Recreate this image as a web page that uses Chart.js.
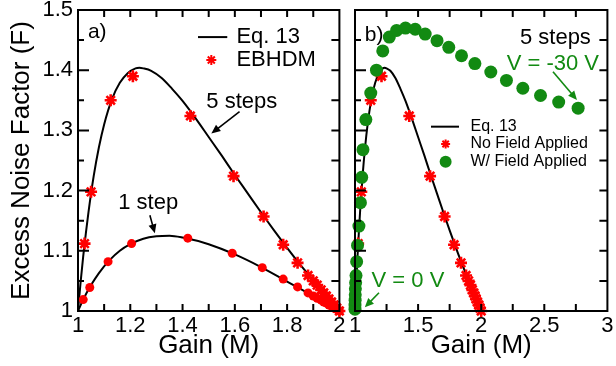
<!DOCTYPE html>
<html>
<head>
<meta charset="utf-8">
<script src="https://cdn.jsdelivr.net/npm/chart.js@4.4.1/dist/chart.umd.min.js"></script>
<style>
  html, body { margin: 0; padding: 0; background: #fff; }
  #wrap { position: relative; width: 616px; height: 366px; overflow: hidden; background: #fff; }
  canvas { position: absolute; top: 0; }
  #left { left: 0; }
  #right { left: 340px; }
</style>
</head>
<body>
<div id="wrap">
  <canvas id="left" width="348" height="366" style="width:348px;height:366px"></canvas>
  <canvas id="right" width="276" height="366" style="width:276px;height:366px"></canvas>
</div>
<script>
// ---------------- AXIS TICKS ----------------
const gainTicksA = [1, 1.2, 1.4, 1.6, 1.8, 2];
const gainMarksA = [1.1, 1.2, 1.3, 1.4, 1.5, 1.6, 1.7, 1.8, 1.9];
const gainTicksB = [1, 1.5, 2, 2.5, 3];
const gainMarksB = [1.25, 1.5, 1.75, 2, 2.25, 2.5, 2.75];
const noiseTicks = [1, 1.1, 1.2, 1.3, 1.4, 1.5];
const noiseMarks = [1.05, 1.1, 1.15, 1.2, 1.25, 1.3, 1.35, 1.4, 1.45];

// ---------------- EQ. 13 CURVES ----------------
const gainFiveStep = [1.000, 1.005, 1.01, 1.02, 1.03, 1.04, 1.06, 1.08, 1.10, 1.13, 1.16, 1.19, 1.22, 1.235, 1.25, 1.28, 1.32, 1.36, 1.40, 1.45, 1.50, 1.55, 1.60, 1.65, 1.70, 1.75, 1.80, 1.85, 1.90, 1.95, 2.00];
const noiseFiveStep = [1.000, 1.024, 1.048, 1.091, 1.129, 1.164, 1.224, 1.272, 1.310, 1.352, 1.379, 1.395, 1.403, 1.404, 1.403, 1.399, 1.387, 1.369, 1.349, 1.320, 1.289, 1.258, 1.226, 1.195, 1.164, 1.134, 1.105, 1.077, 1.051, 1.025, 1.000];
const gainOneStep = [1.00, 1.02, 1.05, 1.08, 1.12, 1.16, 1.20, 1.25, 1.30, 1.35, 1.40, 1.50, 1.60, 1.70, 1.80, 1.90, 2.00];
const noiseOneStep = [1.000, 1.019, 1.043, 1.063, 1.084, 1.100, 1.111, 1.120, 1.124, 1.125, 1.122, 1.111, 1.094, 1.073, 1.049, 1.025, 1.000];

// ---------------- EBHDM (no field) ----------------
const ebGainFive = [1.025, 1.05, 1.125, 1.21, 1.43, 1.595, 1.71, 1.785, 1.84, 1.88, 1.90, 1.915, 1.93, 1.94, 1.95, 1.96, 1.97, 1.98, 1.99, 2.00];
const ebNoiseFive = [1.112, 1.198, 1.350, 1.390, 1.324, 1.224, 1.157, 1.110, 1.080, 1.059, 1.050, 1.043, 1.035, 1.030, 1.025, 1.020, 1.015, 1.010, 1.005, 1.000];
const ebGainOne = [1.02, 1.045, 1.115, 1.205, 1.42, 1.59, 1.705, 1.785, 1.84, 1.88, 1.90, 1.915, 1.93, 1.94, 1.95, 1.96, 1.97, 1.98, 1.99, 2.00];
const ebNoiseOne = [1.019, 1.039, 1.082, 1.112, 1.121, 1.096, 1.072, 1.053, 1.040, 1.030, 1.025, 1.021, 1.018, 1.015, 1.013, 1.010, 1.008, 1.005, 1.003, 1.000];

// ---------------- WITH FIELD (0 V .. -30 V) ----------------
const fieldGain = [1.000, 1.000, 1.001, 1.002, 1.003, 1.005, 1.008, 1.013, 1.020, 1.031, 1.043, 1.053, 1.063, 1.086, 1.125, 1.170, 1.220, 1.272, 1.330, 1.400, 1.477, 1.556, 1.650, 1.743, 1.844, 1.950, 2.076, 2.200, 2.330, 2.470, 2.614, 2.768];
const fieldNoise = [1.003, 1.010, 1.018, 1.027, 1.037, 1.047, 1.059, 1.082, 1.109, 1.141, 1.180, 1.222, 1.268, 1.318, 1.362, 1.400, 1.432, 1.455, 1.466, 1.470, 1.468, 1.460, 1.449, 1.438, 1.424, 1.411, 1.397, 1.383, 1.370, 1.358, 1.347, 1.337];

const FONT = "'Liberation Sans', Arial, Helvetica, sans-serif";
const RED = '#ff0000';
const GREEN = '#128a12';

Chart.defaults.font.family = FONT;
Chart.defaults.color = '#000';

function pts(xs, ys) {
    return xs.map((x, i) => ({ x: x, y: ys[i] }));
}

function curve(xs, ys) {
    return {
        data: pts(xs, ys), showLine: true, borderColor: '#000', borderWidth: 2,
        pointRadius: 0, cubicInterpolationMode: 'monotone', fill: false, clip: false, order: 5
    };
}

function stars(xs, ys, order) {
    return {
        data: pts(xs, ys), showLine: false, pointStyle: 'star', pointRadius: 6,
        borderColor: RED, backgroundColor: RED, pointBorderWidth: 2.6, clip: false, order: order
    };
}

function dots(xs, ys, color, r, order) {
    return {
        data: pts(xs, ys), showLine: false, pointStyle: 'circle', pointRadius: r,
        borderColor: color, backgroundColor: color, pointBorderWidth: 0, clip: false, order: order
    };
}

function arrow(ctx, x1, y1, x2, y2, color) {
    const ang = Math.atan2(y2 - y1, x2 - x1), h = 9, w = 4;
    const c = Math.cos(ang), s = Math.sin(ang);
    ctx.strokeStyle = color;
    ctx.fillStyle = color;
    ctx.lineWidth = 1.6;
    ctx.beginPath();
    ctx.moveTo(x1, y1);
    ctx.lineTo(x2 - h * 0.8 * c, y2 - h * 0.8 * s);
    ctx.stroke();
    ctx.beginPath();
    ctx.moveTo(x2, y2);
    ctx.lineTo(x2 - h * c + w * s, y2 - h * s - w * c);
    ctx.lineTo(x2 - h * c - w * s, y2 - h * s + w * c);
    ctx.closePath();
    ctx.fill();
}

// ---------------- FRAME, INWARD TICKS, LABELS ----------------
const panelDecor = {
    id: 'panelDecor',
    afterDatasetsDraw(chart, args, o) {
        const { ctx, chartArea: a } = chart;
        const x = chart.scales.x, y = chart.scales.y;
        ctx.save();

        ctx.strokeStyle = '#000';
        ctx.lineWidth = 2;
        ctx.strokeRect(a.left, a.top, a.right - a.left, a.bottom - a.top);

        ctx.beginPath();
        o.xMarks.forEach(v => {
            const px = x.getPixelForValue(v);
            ctx.moveTo(px, a.bottom); ctx.lineTo(px, a.bottom - 7);
            ctx.moveTo(px, a.top); ctx.lineTo(px, a.top + 7);
        });
        o.yMarks.forEach(v => {
            const py = y.getPixelForValue(v);
            const len = noiseTicks.includes(v) ? 11 : 6;
            ctx.moveTo(a.left, py); ctx.lineTo(a.left + len, py);
            ctx.moveTo(a.right, py); ctx.lineTo(a.right - 8, py);
        });
        ctx.stroke();

        ctx.textAlign = 'left';
        ctx.textBaseline = 'alphabetic';
        o.texts.forEach(t => {
            ctx.fillStyle = t.color || '#000';
            ctx.font = t.size + 'px ' + FONT;
            ctx.fillText(t.text, x.getPixelForValue(t.x), y.getPixelForValue(t.y));
        });

        o.arrows.forEach(r => {
            arrow(ctx, x.getPixelForValue(r.from[0]), y.getPixelForValue(r.from[1]),
                x.getPixelForValue(r.to[0]), y.getPixelForValue(r.to[1]), r.color || '#000');
        });

        // legend
        const L = o.legend;
        ctx.font = L.size + 'px ' + FONT;
        ctx.textBaseline = 'middle';
        L.rows.forEach(row => {
            const py = y.getPixelForValue(row.y);
            if (row.kind === 'line') {
                ctx.strokeStyle = '#000';
                ctx.lineWidth = 2;
                ctx.beginPath();
                ctx.moveTo(x.getPixelForValue(L.lineFrom), py);
                ctx.lineTo(x.getPixelForValue(L.lineTo), py);
                ctx.stroke();
            } else {
                ctx.strokeStyle = row.color;
                ctx.fillStyle = row.color;
                Chart.helpers.drawPoint(ctx, {
                    pointStyle: row.kind, radius: row.radius, rotation: 0,
                    borderWidth: row.kind === 'star' ? 2.4 : 0
                }, x.getPixelForValue(L.marker), py);
            }
            ctx.fillStyle = '#000';
            ctx.fillText(row.label, x.getPixelForValue(L.textX), py);
        });

        ctx.restore();
    }
};

function xScale(min, max, ticks, titleText) {
    return {
        type: 'linear', min: min, max: max,
        afterBuildTicks: s => { s.ticks = ticks.map(v => ({ value: v })); },
        afterFit: s => { s.height = 55; s.paddingLeft = 0; s.paddingRight = 0; },
        grid: { display: false, drawTicks: false },
        border: { display: false },
        ticks: { font: { size: 22 }, padding: 2, maxRotation: 0, autoSkip: false, callback: v => String(v) },
        title: { display: true, text: titleText, font: { size: 26 }, padding: { top: 0, bottom: 5 } }
    };
}

const common = {
    responsive: false,
    animation: false,
    events: [],
    plugins: { legend: { display: false }, tooltip: { enabled: false } }
};

// ---------------- PANEL a) ----------------
new Chart(document.getElementById('left'), {
    type: 'scatter',
    data: {
        datasets: [
            curve(gainFiveStep, noiseFiveStep),
            curve(gainOneStep, noiseOneStep),
            stars(ebGainFive, ebNoiseFive, 2),
            dots(ebGainOne, ebNoiseOne, RED, 4.5, 1)
        ]
    },
    options: Object.assign({}, common, {
        layout: { padding: { top: 10, right: 8, bottom: 0, left: 0 } },
        scales: {
            x: xScale(1, 2, gainTicksA, 'Gain (M)'),
            y: {
                type: 'linear', min: 1, max: 1.5,
                afterBuildTicks: s => { s.ticks = noiseTicks.map(v => ({ value: v })); },
                afterFit: s => { s.width = 78; s.paddingTop = 0; s.paddingBottom = 0; },
                grid: { display: false, drawTicks: false },
                border: { display: false },
                ticks: { font: { size: 22 }, padding: 5, callback: v => String(v) },
                title: { display: true, text: 'Excess Noise Factor (F)', font: { size: 26 }, padding: { top: 6, bottom: 0 } }
            }
        },
        plugins: Object.assign({}, common.plugins, {
            panelDecor: {
                xMarks: gainMarksA,
                yMarks: noiseMarks,
                texts: [
                    { text: 'a)', x: 1.038, y: 1.4535, size: 21 },
                    { text: '5 steps', x: 1.491, y: 1.337, size: 22 },
                    { text: '1 step', x: 1.154, y: 1.170, size: 22 }
                ],
                arrows: [
                    { from: [1.618, 1.331], to: [1.510, 1.295] },
                    { from: [1.275, 1.159], to: [1.294, 1.129] }
                ],
                legend: {
                    size: 22, lineFrom: 1.459, lineTo: 1.571, marker: 1.51, textX: 1.606,
                    rows: [
                        { y: 1.455, kind: 'line', label: 'Eq. 13' },
                        { y: 1.417, kind: 'star', radius: 5, color: RED, label: 'EBHDM' }
                    ]
                }
            }
        })
    }),
    plugins: [panelDecor]
});

// ---------------- PANEL b) ----------------
new Chart(document.getElementById('right'), {
    type: 'scatter',
    data: {
        datasets: [
            curve(gainFiveStep, noiseFiveStep),
            stars(ebGainFive, ebNoiseFive, 3),
            dots(fieldGain, fieldNoise, GREEN, 6.5, 1)
        ]
    },
    options: Object.assign({}, common, {
        layout: { padding: { top: 10, right: 6, bottom: 0, left: 15 } },
        scales: {
            x: xScale(1, 3, gainTicksB, 'Gain (M)'),
            y: { type: 'linear', min: 1, max: 1.5, display: false }
        },
        plugins: Object.assign({}, common.plugins, {
            panelDecor: {
                xMarks: gainMarksB,
                yMarks: noiseMarks,
                texts: [
                    { text: 'b)', x: 1.078, y: 1.4485, size: 21 },
                    { text: '5 steps', x: 2.307, y: 1.4435, size: 22 },
                    { text: 'V = -30 V', x: 2.202, y: 1.3998, size: 22, color: GREEN },
                    { text: 'V = 0 V', x: 1.131, y: 1.0399, size: 22, color: GREEN }
                ],
                arrows: [
                    { from: [2.569, 1.3975], to: [2.759, 1.3505], color: GREEN },
                    { from: [1.19, 1.0304], to: [1.078, 1.0061], color: GREEN }
                ],
                legend: {
                    size: 16, lineFrom: 1.602, lineTo: 1.824, marker: 1.718, textX: 1.915,
                    rows: [
                        { y: 1.3062, kind: 'line', label: 'Eq. 13' },
                        { y: 1.2774, kind: 'star', radius: 4.5, color: RED, label: 'No Field Applied' },
                        { y: 1.248, kind: 'circle', radius: 6, color: GREEN, label: 'W/ Field Applied' }
                    ]
                }
            }
        })
    }),
    plugins: [panelDecor]
});
</script>
</body>
</html>
